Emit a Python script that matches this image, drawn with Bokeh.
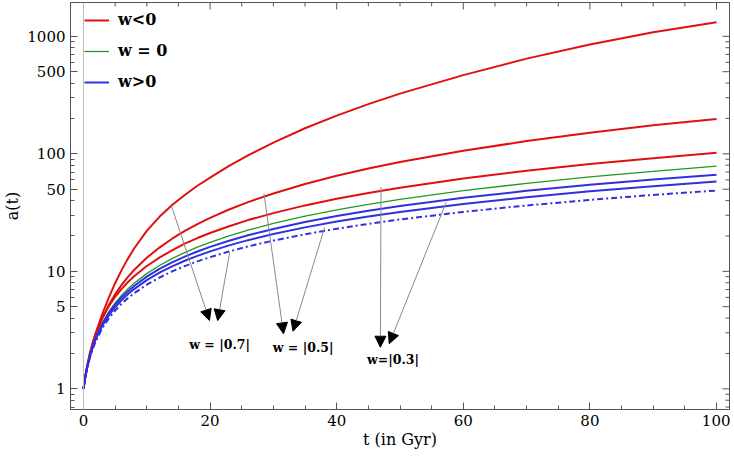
import math
from bokeh.plotting import figure
from bokeh.models import (ColumnDataSource, FixedTicker, Legend, LegendItem, Arrow,
                          NormalHead, Span, Range1d)
from bokeh.embed import file_html
from bokeh.resources import INLINE
from bokeh.core.properties import value

# ---- data ----
t = [0, 0.25, 0.5, 1, 1.5, 2, 3, 4, 5, 6, 7, 8, 10, 12, 14, 16, 18, 20, 23, 26,
     30, 35, 40, 45, 50, 60, 70, 80, 90, 100]

red_a = [1, 1.230, 1.462, 1.950, 2.483, 3.055, 4.365, 5.984, 7.925, 10.19, 12.76, 15.63, 22.08,
         29.11, 36.64, 44.67, 53.46, 62.81, 78.89, 97.05, 124.5, 165.0, 211.3, 264.9, 325.1,
         467.7, 645.7, 851.1, 1081, 1318]
red_b = [1, 1.217, 1.442, 1.913, 2.408, 2.925, 4.01, 5.17, 6.37, 7.63, 8.92, 10.26, 13.04, 15.93,
         18.95, 22.06, 25.26, 28.5, 33.6, 38.84, 46.0, 55.3, 65.0, 74.9, 85.1, 106.3, 128.3,
         151.2, 174.7, 198.2]
red_c = [1, 1.25, 1.5, 2.01, 2.52, 3.02, 4.03, 5.04, 6.05, 7.06, 8.07, 9.08, 11.1, 13.1,
         15.1, 17.2, 19.2, 21.2, 24.2, 27.3, 31.3, 36.4, 41.4, 46.5, 51.5, 61.6, 71.7, 81.8,
         91.9, 102]
green_a = [1, 1.231, 1.459, 1.911, 2.357, 2.80, 3.67, 4.53, 5.39, 6.23, 7.07, 7.91, 9.56, 11.21,
           12.84, 14.45, 16.06, 17.66, 20.04, 22.42, 25.56, 29.46, 33.33, 37.17, 41.0, 48.6,
           56.1, 63.6, 71.0, 78.5]
blue_a = [1, 1.233, 1.462, 1.908, 2.343, 2.77, 3.60, 4.41, 5.20, 5.98, 6.75, 7.51, 9.01, 10.48,
          11.92, 13.35, 14.76, 16.15, 18.22, 20.26, 22.95, 26.26, 29.52, 32.75, 35.93, 42.2,
          48.4, 54.5, 60.5, 66.5]
blue_b = [1, 1.226, 1.446, 1.872, 2.284, 2.685, 3.46, 4.21, 4.95, 5.66, 6.37, 7.06, 8.41, 9.73,
          11.03, 12.30, 13.55, 14.79, 16.62, 18.42, 20.77, 23.66, 26.50, 29.29, 32.05, 37.45,
          42.75, 47.94, 53.06, 58.1]
blue_c = [1, 1.218, 1.427, 1.829, 2.214, 2.585, 3.30, 3.98, 4.64, 5.28, 5.90, 6.51, 7.70, 8.85,
          9.98, 11.07, 12.15, 13.20, 14.76, 16.28, 18.26, 20.68, 23.04, 25.35, 27.62, 32.05,
          36.35, 40.57, 44.69, 48.7]

legend_labels = ["w<0", "w = 0", "w>0"]
x_title = "t (in Gyr)"
y_title = "a(t)"

# annotation arrows: start on a curve -> tip near its label
arrow_x0 = [13.9, 23.1, 28.5, 38.1, 47.0, 57.3]
arrow_y0 = [36.0, 14.5, 46.2, 23.7, 52.0, 38.7]
arrow_x1 = [19.9, 21.2, 31.6, 33.1, 46.9, 48.3]
arrow_y1 = [3.81, 3.81, 2.94, 3.09, 2.26, 2.42]

note_x = [21.5, 34.7, 48.9]
note_y = [2.38, 2.26, 1.77]
note_text = ["w = |0.7|", "w = |0.5|", "w=|0.3|"]

x_major = [0, 20, 40, 60, 80, 100]
x_minor = [5, 10, 15, 25, 30, 35, 45, 50, 55, 65, 70, 75, 85, 90, 95]
y_major = [1, 5, 10, 50, 100, 500, 1000]
y_minor = [0.7, 0.8, 0.9, 2, 3, 4, 6, 7, 8, 9, 20, 30, 40, 60, 70, 80, 90,
           200, 300, 400, 600, 700, 800, 900]

X0, X1 = -2.05, 102.05
Y0, Y1 = 0.667, 1940

RED = "#e01010"
GREEN = "#1f9a1f"
BLUE = "#3030e0"
FRAME = "#555555"
FONT = "DejaVu Serif"

p = figure(width=730, height=452, y_axis_type="log",
           x_range=Range1d(X0, X1), y_range=Range1d(Y0, Y1),
           output_backend="svg", toolbar_location=None,
           min_border_left=69, min_border_right=1, min_border_top=2, min_border_bottom=43)
p.grid.visible = False
p.outline_line_color = FRAME
p.background_fill_color = "white"

p.add_layout(Span(location=0, dimension="height", line_color="#bbbbbb", line_width=1))

src = ColumnDataSource(dict(t=t, ra=red_a, rb=red_b, rc=red_c, g=green_a,
                            ba=blue_a, bb=blue_b, bc=blue_c))
r1 = p.line("t", "ra", source=src, line_color=RED, line_width=2)
p.line("t", "rb", source=src, line_color=RED, line_width=2)
p.line("t", "rc", source=src, line_color=RED, line_width=2)
r2 = p.line("t", "g", source=src, line_color=GREEN, line_width=1.3)
r3 = p.line("t", "ba", source=src, line_color=BLUE, line_width=2)
p.line("t", "bb", source=src, line_color=BLUE, line_width=2)
p.line("t", "bc", source=src, line_color=BLUE, line_width=2, line_dash="6 3 2 3")

asrc = ColumnDataSource(dict(x0=arrow_x0, y0=arrow_y0, x1=arrow_x1, y1=arrow_y1))
p.add_layout(Arrow(end=NormalHead(size=11, fill_color="black", line_color="black", line_width=1),
                   source=asrc, x_start="x0", y_start="y0", x_end="x1", y_end="y1",
                   line_color="#8a8a8a", line_width=1))

nsrc = ColumnDataSource(dict(x=note_x, y=note_y, s=note_text))
p.text("x", "y", text="s", source=nsrc, text_font=value(FONT), text_font_size="12.5px",
       text_font_style="bold", text_align="center", text_baseline="middle", text_color="black")

# mirrored tick marks on the top and right frame edges
p.ray(x=x_major, y=[Y1] * len(x_major), length=7, length_units="screen",
      angle=-math.pi / 2, line_color=FRAME, line_width=1)
p.ray(x=x_minor, y=[Y1] * len(x_minor), length=4, length_units="screen",
      angle=-math.pi / 2, line_color=FRAME, line_width=1)
p.ray(x=[X1] * len(y_major), y=y_major, length=7, length_units="screen",
      angle=math.pi, line_color=FRAME, line_width=1)
p.ray(x=[X1] * len(y_minor), y=y_minor, length=4, length_units="screen",
      angle=math.pi, line_color=FRAME, line_width=1)

p.xaxis.ticker = FixedTicker(ticks=x_major, minor_ticks=x_minor)
p.yaxis.ticker = FixedTicker(ticks=y_major, minor_ticks=y_minor)
p.xaxis.axis_label = x_title
p.yaxis.axis_label = y_title
for ax in list(p.xaxis) + list(p.yaxis):
    ax.axis_line_color = FRAME
    ax.major_tick_line_color = FRAME
    ax.minor_tick_line_color = FRAME
    ax.major_tick_in = 7
    ax.major_tick_out = 0
    ax.minor_tick_in = 4
    ax.minor_tick_out = 0
    ax.major_label_text_font = FONT
    ax.major_label_text_font_size = "15px"
    ax.major_label_text_color = "black"
    ax.axis_label_text_font = FONT
    ax.axis_label_text_font_size = "16px"
    ax.axis_label_text_font_style = "normal"
    ax.axis_label_text_color = "black"
for ax in p.xaxis:
    ax.major_label_standoff = 5
    ax.axis_label_standoff = 1
for ax in p.yaxis:
    ax.major_label_standoff = 5
    ax.axis_label_standoff = 2
    ax.major_label_overrides = {1: "1", 5: "5", 10: "10", 50: "50", 100: "100",
                                500: "500", 1000: "1000"}

legend = Legend(items=[LegendItem(label=legend_labels[0], renderers=[r1]),
                       LegendItem(label=legend_labels[1], renderers=[r2]),
                       LegendItem(label=legend_labels[2], renderers=[r3])],
                location=(14, 318))
legend.margin = 0
legend.padding = 0
legend.glyph_width = 25
legend.glyph_height = 18
legend.label_height = 18
legend.spacing = 12
legend.label_standoff = 9
legend.label_text_font = FONT
legend.label_text_font_size = "16px"
legend.label_text_font_style = "bold"
legend.label_text_color = "black"
legend.border_line_alpha = 0
legend.background_fill_alpha = 0
p.add_layout(legend)

open("out.html", "w").write(file_html(p, INLINE))
